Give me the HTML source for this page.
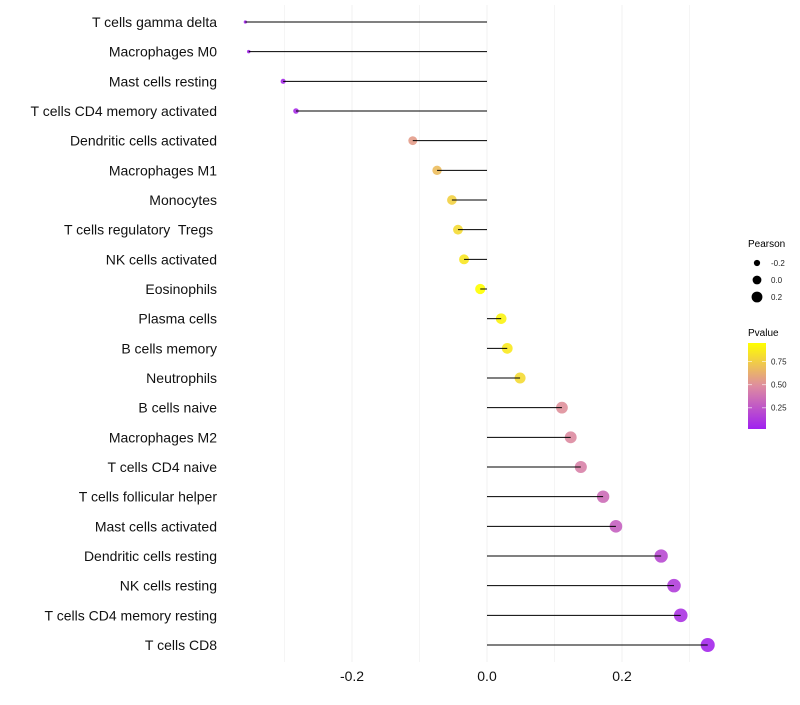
<!DOCTYPE html>
<html><head><meta charset="utf-8"><style>
body{margin:0;background:#fff;font-family:"Liberation Sans",sans-serif}
text{white-space:pre}
</style></head><body>
<svg id="chart" width="800" height="700" xmlns="http://www.w3.org/2000/svg" font-family="Liberation Sans, sans-serif">
<g id="grid"></g><g id="marks"></g><g id="labels"></g>
<g id="legend">
<text x="748" y="247" font-size="10">Pearson</text>
<text x="748" y="336" font-size="10">Pvalue</text>
</g>
</svg>
<script>
const categories=["T cells gamma delta","Macrophages M0","Mast cells resting","T cells CD4 memory activated","Dendritic cells activated","Macrophages M1","Monocytes","T cells regulatory  Tregs ","NK cells activated","Eosinophils","Plasma cells","B cells memory","Neutrophils","B cells naive","Macrophages M2","T cells CD4 naive","T cells follicular helper","Mast cells activated","Dendritic cells resting","NK cells resting","T cells CD4 memory resting","T cells CD8"];
const pearson=[-0.358,-0.353,-0.302,-0.283,-0.110,-0.074,-0.052,-0.043,-0.034,-0.010,0.021,0.030,0.049,0.111,0.124,0.139,0.172,0.191,0.258,0.277,0.287,0.327];
const pvalue=[0.04,0.05,0.06,0.07,0.55,0.68,0.76,0.80,0.85,0.95,0.90,0.86,0.80,0.50,0.48,0.44,0.35,0.30,0.20,0.15,0.10,0.05];
const xTicks=[-0.2,0.0,0.2];
const xTickLabels=["-0.2","0.0","0.2"];
const pearsonLegend=[-0.2,0.0,0.2];
const pvalueTicks=[0.25,0.5,0.75];
const NS="http://www.w3.org/2000/svg";
const xs=v=>487+v*675;
const ys=i=>22+i*(623/21);
const rs=p=>Math.sqrt(Math.max(1.5,27+68*p));
const pMin=0.02,pMax=0.95;
function col(p){let t=(p-pMin)/(pMax-pMin);t=Math.max(0,Math.min(1,t));
 const s=[[160,32,240],[222,140,160],[255,255,0]];let a,b,u;
 if(t<0.5){a=s[0];b=s[1];u=t/0.5}else{a=s[1];b=s[2];u=(t-0.5)/0.5}
 return `rgb(${a.map((c,k)=>Math.round(c+(b[k]-c)*u)).join(",")})`;}
function mk(tag,attrs,parent){const e=document.createElementNS(NS,tag);for(const k in attrs)e.setAttribute(k,attrs[k]);parent.appendChild(e);return e;}
const grid=document.getElementById('grid'),marks=document.getElementById('marks'),labels=document.getElementById('labels'),legend=document.getElementById('legend');
for(let v=-0.3;v<=0.31;v+=0.2){const g=mk('line',{x1:xs(v),x2:xs(v),y1:5,y2:662,stroke:'#f5f5f5','stroke-width':1},grid);

}
xTicks.forEach((v,i)=>{const g=mk('line',{x1:xs(v),x2:xs(v),y1:5,y2:662,stroke:'#f0f0f0','stroke-width':1},grid);


const t=mk('text',{x:xs(v),y:681,'font-size':14,'text-anchor':'middle',fill:'#111'},labels);t.textContent=xTickLabels[i];

});
categories.forEach((c,i)=>{const y=ys(i);
const t=mk('text',{x:217,y:y+5,'font-size':14,'text-anchor':'end',fill:'#111'},labels);t.textContent=c;


const pt=mk('circle',{cx:xs(pearson[i]),cy:y,r:rs(pearson[i]),fill:col(pvalue[i]),'fill-opacity':0.9},marks);


const ln=mk('line',{x1:xs(0),x2:xs(pearson[i]),y1:y,y2:y,stroke:'#000','stroke-width':1},marks);

});
pearsonLegend.forEach((v,i)=>{const y=263+i*17;
const c=mk('circle',{cx:757,cy:y,r:rs(v)*0.85,fill:'#000'},legend);


const t=mk('text',{x:771,y:y+3,'font-size':8,fill:'#222'},legend);t.textContent=v.toFixed(1);

});
const defs=mk('defs',{},legend);const gr=mk('linearGradient',{id:'pg',x1:0,y1:1,x2:0,y2:0},defs);
[[0,'#a020f0'],[0.5,'#de8ca0'],[1,'#ffff00']].forEach(s=>mk('stop',{offset:s[0],'stop-color':s[1]},gr));
const bar=mk('rect',{x:748,y:343,width:18,height:86,fill:'url(#pg)'},legend);


pvalueTicks.forEach(v=>{const y=429-(v-pMin)/(pMax-pMin)*86;
mk('line',{x1:748,x2:752,y1:y,y2:y,stroke:'#fff','stroke-opacity':0.6},legend);
mk('line',{x1:762,x2:766,y1:y,y2:y,stroke:'#fff','stroke-opacity':0.6},legend);
const t=mk('text',{x:771,y:y+3,'font-size':8,fill:'#222'},legend);t.textContent=v.toFixed(2);

});
</script>
</body></html>
